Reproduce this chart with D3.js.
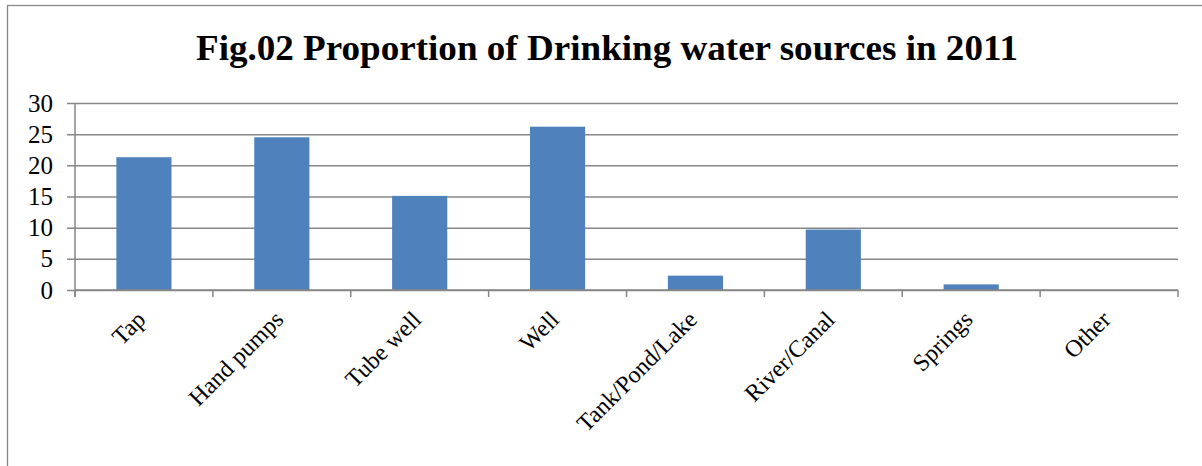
<!DOCTYPE html>
<html><head><meta charset="utf-8">
<script src="https://cdn.jsdelivr.net/npm/d3@7"></script>
<style>body{margin:0;background:#fff}svg{display:block}</style>
</head><body>
<svg id="c" width="1202" height="466"></svg>
<script>
const categories = ["Tap","Hand pumps","Tube well","Well","Tank/Pond/Lake","River/Canal","Springs","Other"];
const values = [21.3, 24.5, 15.1, 26.2, 2.3, 9.7, 0.9, 0];
const yTicks = [0,5,10,15,20,25,30];
const title = "Fig.02 Proportion of Drinking water sources in 2011";

const svg = d3.select("#c");
const m = {left:75, right:1178, top:103, bottom:290};
const font = "'Liberation Serif','Times New Roman',serif";
const grey = "#878787";

svg.append("rect").attr("x",7.5).attr("y",5.5).attr("width",1300).attr("height",480)
  .attr("fill","none").attr("stroke",grey).attr("stroke-width",1.3);

svg.append("text").attr("x",607).attr("y",59.5).attr("text-anchor","middle")
  .attr("font-family",font).attr("font-weight","bold").attr("font-size",35)
  .attr("textLength",822).attr("lengthAdjust","spacingAndGlyphs").text(title);

const x = d3.scaleBand().domain(categories).range([m.left,m.right]).paddingInner(0).paddingOuter(0);
const y = d3.scaleLinear().domain([0,30]).range([m.bottom,m.top]);

// gridlines + y ticks
const ya = svg.append("g").attr("transform",`translate(${m.left},0)`)
  .call(d3.axisLeft(y).tickValues(yTicks).tickSize(-(m.right-m.left)).tickPadding(22));
ya.select(".domain").remove();
ya.selectAll(".tick line").attr("stroke",grey).attr("stroke-width",1.5).attr("x1",-8);
ya.selectAll(".tick text").attr("font-family",font).attr("font-size",25).attr("fill","#000");
svg.append("line").attr("x1",m.left).attr("x2",m.left).attr("y1",m.top).attr("y2",m.bottom+7)
  .attr("stroke",grey).attr("stroke-width",1.5);

// bars
svg.append("g").selectAll("rect").data(values).join("rect")
  .attr("x",(d,i)=>x(categories[i])+x.bandwidth()*0.3)
  .attr("width",x.bandwidth()*0.4)
  .attr("y",d=>y(d)).attr("height",d=>y(0)-y(d))
  .attr("fill","#4F81BD");

// x axis
const xa = svg.append("g").attr("transform",`translate(0,${m.bottom})`);
xa.append("line").attr("x1",m.left).attr("x2",m.right).attr("stroke",grey).attr("stroke-width",1.5);
const bounds = categories.map(c=>x(c)).concat([m.right]);
xa.selectAll("line.t").data(bounds).join("line").attr("class","t")
  .attr("x1",d=>d).attr("x2",d=>d).attr("y1",0).attr("y2",7).attr("stroke",grey).attr("stroke-width",1.5);
xa.selectAll("text").data(categories).join("text")
  .attr("transform",d=>`translate(${x(d)+x.bandwidth()/2+3},${31}) rotate(-45)`)
  .attr("text-anchor","end").attr("font-family",font).attr("font-size",24).attr("fill","#000")
  .text(d=>d);
</script>
</body></html>
